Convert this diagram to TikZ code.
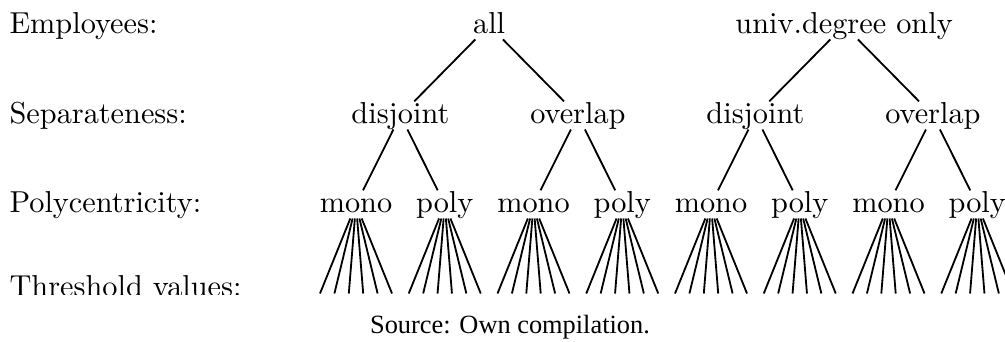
\documentclass[tikz,border=0pt]{standalone}
\usepackage{fontspec}
\newfontfamily\srcfont{Liberation Serif}
\begin{document}
\begin{tikzpicture}[x=0.33pt,y=-0.33pt,
  lvl/.style={inner sep=0pt, text height=6.94pt, text depth=1.94pt, anchor=base},
  rowlabel/.style={inner sep=0pt, anchor=base west},
  conn/.style={line width=0.6pt, black}]
\useasboundingbox (0,0) rectangle (1005,341);
% row labels
\node[rowlabel] (lE) at (9,33) {Employees:};
\node[rowlabel] (lS) at (9,123) {Separateness:};
\node[rowlabel] (lP) at (9,212) {Polycentricity:};
\begin{scope}
  \clip (0,0) rectangle (310,294.5);
  \node[rowlabel] (lT) at (9,296) {Threshold values:};
\end{scope}
% level 1
\node[lvl] (all) at (489.1,33) {all};
\node[lvl] (univ) at (844.1,33) {univ.degree only};
% level 2
\node[lvl] (d1) at (400.4,123) {disjoint};
\node[lvl] (o1) at (577.9,123) {overlap};
\node[lvl] (d2) at (755.4,123) {disjoint};
\node[lvl] (o2) at (932.9,123) {overlap};
% level 3
\node[lvl] (m1) at (356,212) {mono};
\node[lvl] (p1) at (444.75,212) {poly};
\node[lvl] (m2) at (533.5,212) {mono};
\node[lvl] (p2) at (622.25,212) {poly};
\node[lvl] (m3) at (711,212) {mono};
\node[lvl] (p3) at (799.75,212) {poly};
\node[lvl] (m4) at (888.5,212) {mono};
\node[lvl] (p4) at (977.25,212) {poly};
% edges
\draw[conn] (all) -- (d1);
\draw[conn] (all) -- (o1);
\draw[conn] (univ) -- (d2);
\draw[conn] (univ) -- (o2);
\draw[conn] (d1) -- (m1);
\draw[conn] (d1) -- (p1);
\draw[conn] (o1) -- (m2);
\draw[conn] (o1) -- (p2);
\draw[conn] (d2) -- (m3);
\draw[conn] (d2) -- (p3);
\draw[conn] (o2) -- (m4);
\draw[conn] (o2) -- (p4);
% threshold fans
\foreach \p in {m1,p1,m2,p2,m3,p3,m4,p4}{
  \foreach \k [count=\i] in {-36,-21.6,-7.2,7.2,21.6,36}{
    \path (\p.base) ++(\k,81.5) coordinate (\p t\i);
    \draw[conn] (\p) -- (\p t\i);
  }
}
% source
\node[inner sep=0pt, anchor=base, font=\srcfont\fontsize{8.7}{10}\selectfont] (src) at (510,333) {Source: Own compilation.};
\end{tikzpicture}
\end{document}
